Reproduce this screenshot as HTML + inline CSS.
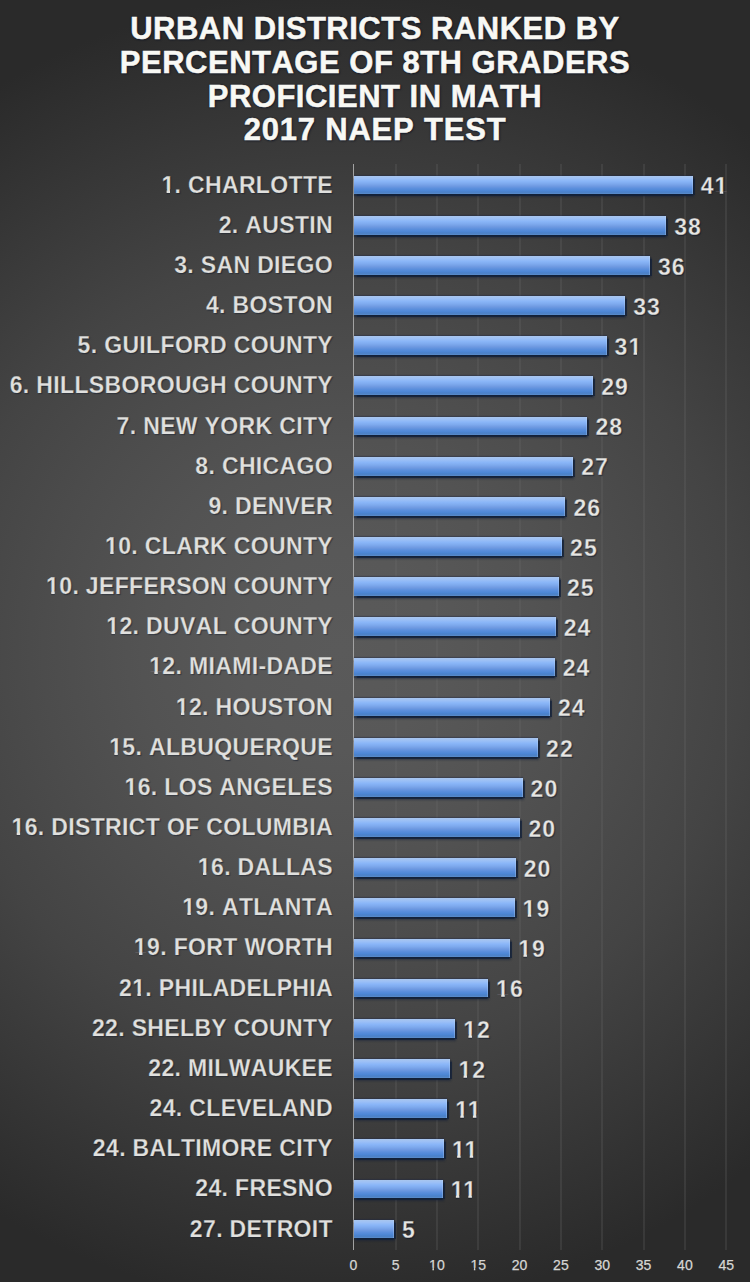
<!DOCTYPE html>
<html><head><meta charset="utf-8">
<style>
html,body{margin:0;padding:0;}
body{width:750px;height:1282px;overflow:hidden;position:relative;
background:radial-gradient(circle 660px at 340px 650px,#5a5a5a 0%,#585858 15%,#535353 30%,#4c4c4c 45%,#444444 61%,#3a3a3a 76%,#303030 91%,#2a2a2a 100%);
font-family:"Liberation Sans",sans-serif;}
.t{position:absolute;left:0;width:750px;text-align:center;font-weight:bold;font-size:31px;letter-spacing:0.5px;font-kerning:none;color:#f8f8f4;line-height:34px;white-space:nowrap;-webkit-text-stroke:0.5px #f8f8f4;text-shadow:0 0 2px rgba(12,20,38,0.85),1px 1px 2px rgba(12,20,38,0.8);}
.ax{position:absolute;top:164px;height:1086px;width:1.5px;left:352.5px;background:#a2a2a2;}
.b{position:absolute;left:353.6px;height:18.8px;
background:linear-gradient(180deg,#a9c6ee 0%,#9cc0f6 14%,#8ab6f8 28%,#7eaaee 42%,#6f9ae2 56%,#5a8edc 70%,#4d87d6 82%,#4a80c8 90%,#5a8cca 100%);
box-shadow:inset -1px 0 0 rgba(190,215,250,0.3), 0 1.5px 1px rgba(18,32,58,0.8), 1.5px 0.5px 1px rgba(18,32,58,0.75), 0 -1px 1px rgba(30,40,70,0.4), 0.5px 2.5px 2px rgba(18,32,58,0.45);}
.g{position:absolute;top:164px;height:1086px;width:2px;background:rgba(110,110,110,0.24);}
.l{position:absolute;right:417px;font-weight:bold;font-size:23px;letter-spacing:0.35px;font-kerning:none;color:#e0e0de;white-space:nowrap;line-height:26px;text-shadow:1px 1px 1px rgba(10,20,40,0.5);}
.v{position:absolute;font-weight:bold;font-size:23px;letter-spacing:1px;color:#e6e6e4;white-space:nowrap;line-height:26px;text-shadow:1px 1px 1px rgba(10,20,40,0.6);}
.o1{clip-path:polygon(0 0,100% 0,100% 0.772em,0.375em 0.772em,0.375em 1.3em,0.225em 1.3em,0.225em 0.772em,0 0.772em);}
.o1r{clip-path:polygon(0 0,100% 0,100% 0.805em,0.345em 0.805em,0.345em 1.3em,0.24em 1.3em,0.24em 0.805em,0 0.805em);}
.xl{position:absolute;top:1256.5px;width:40px;text-align:center;font-size:14px;color:#d6d6d4;line-height:16px;-webkit-text-stroke:0.25px #d6d6d4;}
</style></head><body>
<div class="t" style="top:11.5px">URBAN DISTRICTS RANKED BY</div>
<div class="t" style="top:46.1px">PERCENTAGE OF 8TH GRADERS</div>
<div class="t" style="top:79.6px">PROFICIENT IN MATH</div>
<div class="t" style="top:113.4px;letter-spacing:0.8px">2017 NAEP TEST</div>
<div class="g" style="left:394.6px"></div>
<div class="g" style="left:435.9px"></div>
<div class="g" style="left:477.3px"></div>
<div class="g" style="left:518.6px"></div>
<div class="g" style="left:559.9px"></div>
<div class="g" style="left:601.2px"></div>
<div class="g" style="left:642.6px"></div>
<div class="g" style="left:683.9px"></div>
<div class="g" style="left:725.2px"></div>
<div class="ax"></div>
<div class="b" style="top:175.7px;width:339.2px"></div>
<div class="l" style="top:171.6px;-webkit-text-stroke:0.25px rgb(61,61,61)"><span class="o1">1</span>. CHARLOTTE</div>
<div class="v" style="left:700.8px;top:173.4px;-webkit-text-stroke:0.3px rgb(48,48,48)">4<span class="o1">1</span></div>
<div class="b" style="top:215.8px;width:312.7px"></div>
<div class="l" style="top:211.8px;-webkit-text-stroke:0.25px rgb(65,65,65)">2. AUSTIN</div>
<div class="v" style="left:674.3px;top:213.5px;-webkit-text-stroke:0.3px rgb(53,53,53)">38</div>
<div class="b" style="top:256.0px;width:296.3px"></div>
<div class="l" style="top:251.9px;-webkit-text-stroke:0.25px rgb(68,68,68)">3. SAN DIEGO</div>
<div class="v" style="left:657.9px;top:253.7px;-webkit-text-stroke:0.3px rgb(57,57,57)">36</div>
<div class="b" style="top:296.1px;width:271.7px"></div>
<div class="l" style="top:292.0px;-webkit-text-stroke:0.25px rgb(71,71,71)">4. BOSTON</div>
<div class="v" style="left:633.3px;top:293.8px;-webkit-text-stroke:0.3px rgb(62,62,62)">33</div>
<div class="b" style="top:336.3px;width:253.0px"></div>
<div class="l" style="top:332.2px;-webkit-text-stroke:0.25px rgb(74,74,74)">5. GUILFORD COUNTY</div>
<div class="v" style="left:614.6px;top:334.0px;-webkit-text-stroke:0.3px rgb(66,66,66)">3<span class="o1">1</span></div>
<div class="b" style="top:376.4px;width:239.6px"></div>
<div class="l" style="top:372.3px;-webkit-text-stroke:0.25px rgb(77,77,77)">6. HILLSBOROUGH COUNTY</div>
<div class="v" style="left:601.2px;top:374.1px;-webkit-text-stroke:0.3px rgb(70,70,70)">29</div>
<div class="b" style="top:416.6px;width:233.9px"></div>
<div class="l" style="top:412.5px;-webkit-text-stroke:0.25px rgb(80,80,80)">7. NEW YORK CITY</div>
<div class="v" style="left:595.5px;top:414.3px;-webkit-text-stroke:0.3px rgb(72,72,72)">28</div>
<div class="b" style="top:456.8px;width:219.6px"></div>
<div class="l" style="top:452.6px;-webkit-text-stroke:0.25px rgb(82,82,82)">8. CHICAGO</div>
<div class="v" style="left:581.2px;top:454.4px;-webkit-text-stroke:0.3px rgb(75,75,75)">27</div>
<div class="b" style="top:496.9px;width:211.9px"></div>
<div class="l" style="top:492.8px;-webkit-text-stroke:0.25px rgb(84,84,84)">9. DENVER</div>
<div class="v" style="left:573.5px;top:494.6px;-webkit-text-stroke:0.3px rgb(77,77,77)">26</div>
<div class="b" style="top:537.0px;width:208.5px"></div>
<div class="l" style="top:532.9px;-webkit-text-stroke:0.25px rgb(86,86,86)"><span class="o1">1</span>0. CLARK COUNTY</div>
<div class="v" style="left:570.1px;top:534.8px;-webkit-text-stroke:0.3px rgb(78,78,78)">25</div>
<div class="b" style="top:577.2px;width:205.3px"></div>
<div class="l" style="top:573.1px;-webkit-text-stroke:0.25px rgb(87,87,87)"><span class="o1">1</span>0. JEFFERSON COUNTY</div>
<div class="v" style="left:566.9px;top:574.9px;-webkit-text-stroke:0.3px rgb(80,80,80)">25</div>
<div class="b" style="top:617.3px;width:202.1px"></div>
<div class="l" style="top:613.2px;-webkit-text-stroke:0.25px rgb(88,88,88)"><span class="o1">1</span>2. DUVAL COUNTY</div>
<div class="v" style="left:563.7px;top:615.0px;-webkit-text-stroke:0.3px rgb(80,80,80)">24</div>
<div class="b" style="top:657.5px;width:201.1px"></div>
<div class="l" style="top:653.4px;-webkit-text-stroke:0.25px rgb(88,88,88)"><span class="o1">1</span>2. MIAMI-DADE</div>
<div class="v" style="left:562.7px;top:655.2px;-webkit-text-stroke:0.3px rgb(80,80,80)">24</div>
<div class="b" style="top:697.6px;width:196.3px"></div>
<div class="l" style="top:693.5px;-webkit-text-stroke:0.25px rgb(87,87,87)"><span class="o1">1</span>2. HOUSTON</div>
<div class="v" style="left:557.9px;top:695.3px;-webkit-text-stroke:0.3px rgb(80,80,80)">24</div>
<div class="b" style="top:737.8px;width:184.5px"></div>
<div class="l" style="top:733.7px;-webkit-text-stroke:0.25px rgb(86,86,86)"><span class="o1">1</span>5. ALBUQUERQUE</div>
<div class="v" style="left:546.1px;top:735.5px;-webkit-text-stroke:0.3px rgb(80,80,80)">22</div>
<div class="b" style="top:778.0px;width:169.0px"></div>
<div class="l" style="top:773.9px;-webkit-text-stroke:0.25px rgb(84,84,84)"><span class="o1">1</span>6. LOS ANGELES</div>
<div class="v" style="left:530.6px;top:775.7px;-webkit-text-stroke:0.3px rgb(80,80,80)">20</div>
<div class="b" style="top:818.1px;width:166.8px"></div>
<div class="l" style="top:814.0px;-webkit-text-stroke:0.25px rgb(83,83,83)"><span class="o1">1</span>6. DISTRICT OF COLUMBIA</div>
<div class="v" style="left:528.4px;top:815.8px;-webkit-text-stroke:0.3px rgb(78,78,78)">20</div>
<div class="b" style="top:858.2px;width:162.2px"></div>
<div class="l" style="top:854.1px;-webkit-text-stroke:0.25px rgb(80,80,80)"><span class="o1">1</span>6. DALLAS</div>
<div class="v" style="left:523.8px;top:856.0px;-webkit-text-stroke:0.3px rgb(76,76,76)">20</div>
<div class="b" style="top:898.4px;width:161.0px"></div>
<div class="l" style="top:894.3px;-webkit-text-stroke:0.25px rgb(77,77,77)"><span class="o1">1</span>9. ATLANTA</div>
<div class="v" style="left:522.6px;top:896.1px;-webkit-text-stroke:0.3px rgb(74,74,74)"><span class="o1">1</span>9</div>
<div class="b" style="top:938.5px;width:156.7px"></div>
<div class="l" style="top:934.4px;-webkit-text-stroke:0.25px rgb(75,75,75)"><span class="o1">1</span>9. FORT WORTH</div>
<div class="v" style="left:518.3px;top:936.2px;-webkit-text-stroke:0.3px rgb(72,72,72)"><span class="o1">1</span>9</div>
<div class="b" style="top:978.7px;width:134.5px"></div>
<div class="l" style="top:974.6px;-webkit-text-stroke:0.25px rgb(72,72,72)">2<span class="o1">1</span>. PHILADELPHIA</div>
<div class="v" style="left:496.1px;top:976.4px;-webkit-text-stroke:0.3px rgb(70,70,70)"><span class="o1">1</span>6</div>
<div class="b" style="top:1018.8px;width:101.7px"></div>
<div class="l" style="top:1014.7px;-webkit-text-stroke:0.25px rgb(69,69,69)">22. SHELBY COUNTY</div>
<div class="v" style="left:463.3px;top:1016.5px;-webkit-text-stroke:0.3px rgb(68,68,68)"><span class="o1">1</span>2</div>
<div class="b" style="top:1059.0px;width:96.8px"></div>
<div class="l" style="top:1054.9px;-webkit-text-stroke:0.25px rgb(65,65,65)">22. MILWAUKEE</div>
<div class="v" style="left:458.4px;top:1056.7px;-webkit-text-stroke:0.3px rgb(64,64,64)"><span class="o1">1</span>2</div>
<div class="b" style="top:1099.1px;width:93.6px"></div>
<div class="l" style="top:1095.0px;-webkit-text-stroke:0.25px rgb(61,61,61)">24. CLEVELAND</div>
<div class="v" style="left:455.2px;top:1096.8px;-webkit-text-stroke:0.3px rgb(61,61,61)"><span class="o1">1</span><span class="o1">1</span></div>
<div class="b" style="top:1139.3px;width:90.4px"></div>
<div class="l" style="top:1135.2px;-webkit-text-stroke:0.25px rgb(57,57,57)">24. BALTIMORE CITY</div>
<div class="v" style="left:452.0px;top:1137.0px;-webkit-text-stroke:0.3px rgb(57,57,57)"><span class="o1">1</span><span class="o1">1</span></div>
<div class="b" style="top:1179.5px;width:89.1px"></div>
<div class="l" style="top:1175.4px;-webkit-text-stroke:0.25px rgb(53,53,53)">24. FRESNO</div>
<div class="v" style="left:450.7px;top:1177.2px;-webkit-text-stroke:0.3px rgb(53,53,53)"><span class="o1">1</span><span class="o1">1</span></div>
<div class="b" style="top:1219.6px;width:40.5px"></div>
<div class="l" style="top:1215.5px;-webkit-text-stroke:0.25px rgb(49,49,49)">27. DETROIT</div>
<div class="v" style="left:402.1px;top:1217.3px;-webkit-text-stroke:0.3px rgb(50,50,50)">5</div>
<div class="xl" style="left:333.3px">0</div>
<div class="xl" style="left:375.6px">5</div>
<div class="xl" style="left:416.9px"><span class="o1r">1</span>0</div>
<div class="xl" style="left:458.3px"><span class="o1r">1</span>5</div>
<div class="xl" style="left:499.6px">20</div>
<div class="xl" style="left:540.9px">25</div>
<div class="xl" style="left:582.2px">30</div>
<div class="xl" style="left:623.6px">35</div>
<div class="xl" style="left:664.9px">40</div>
<div class="xl" style="left:706.2px">45</div>
</body></html>
